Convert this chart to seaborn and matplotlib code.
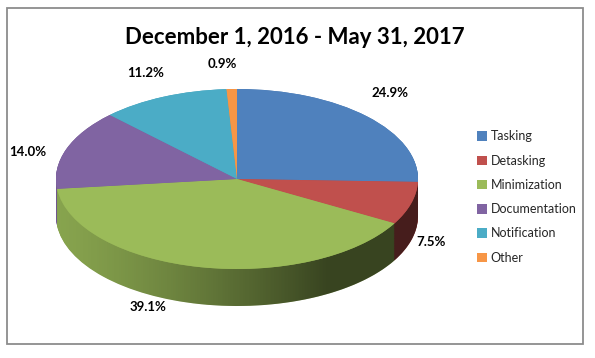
import numpy as np
import matplotlib.pyplot as plt
import seaborn as sns
from matplotlib.patches import Polygon, Rectangle
from matplotlib.colors import to_rgb

sns.set_theme(style="white")
plt.rcParams['font.family'] = ['Lato', 'DejaVu Sans']

# Datos del grafico
categorias = ["Tasking", "Detasking", "Minimization", "Documentation", "Notification", "Other"]
porcentajes = [24.9, 7.5, 39.1, 14.0, 11.2, 0.9]
etiquetas = ["24.9%", "7.5%", "39.1%", "14.0%", "11.2%", "0.9%"]
titulo = "December 1, 2016 - May 31, 2017"

colores = sns.color_palette(["#4F81BD", "#C0504D", "#9BBB59", "#8064A2", "#4BACC6", "#F79646"])

# Posicion de las etiquetas (pixeles de la figura)
pos_etiquetas = [(390, 93), (431, 242), (148, 307), (28, 152), (146, 73), (222, 64)]

W, H = 595, 358
fig = plt.figure(figsize=(W / 100, H / 100), dpi=100)
fig.patch.set_facecolor("white")

# Geometria del pastel en pixeles
cx, cy, rx, ry, prof = 237, 179, 181, 90, 37
ax_l, ax_r, ax_t, ax_b = 20, 455, 50, 345
ax = fig.add_axes([ax_l / W, 1 - ax_b / H, (ax_r - ax_l) / W, (ax_b - ax_t) / H])
depth = prof / ry

# Lateral (capas apiladas)
lado = [tuple(np.array(to_rgb(c)) * 0.93) for c in colores]
for k in np.linspace(depth, 0, 60):
    ax.pie(porcentajes, colors=lado, startangle=90, counterclock=False,
           center=(0, -k), radius=1, wedgeprops=dict(linewidth=0))

# Sombreado horizontal del lateral
u = np.linspace(0, 1, 400)
alpha = 0.06 + 0.55 * np.clip(u / 0.75, 0, 1) ** 1.3
grad = np.zeros((1, len(u), 4))
grad[..., 3] = alpha
t = np.linspace(np.pi, 2 * np.pi, 200)
banda = np.vstack([np.column_stack([np.cos(t), np.sin(t)]),
                   np.column_stack([np.cos(t[::-1]), np.sin(t[::-1]) - depth])])
img = ax.imshow(grad, extent=(-1, 1, -1 - depth, 0), aspect='auto', zorder=2)
clip = Polygon(banda, closed=True, transform=ax.transData, facecolor='none', edgecolor='none')
ax.add_patch(clip)
img.set_clip_path(clip)

# Superficie superior
cuñas, _ = ax.pie(porcentajes, colors=colores, startangle=90, counterclock=False,
                  center=(0, 0), radius=1, wedgeprops=dict(linewidth=0))
for w in cuñas:
    w.set_zorder(3)

ax.set_aspect('auto')
ax.set_xlim((ax_l - cx) / rx, (ax_r - cx) / rx)
ax.set_ylim((cy - ax_b) / ry, (cy - ax_t) / ry)
ax.axis('off')

# Etiquetas de porcentaje
for txt, (px, py) in zip(etiquetas, pos_etiquetas):
    fig.text(px / W, 1 - py / H, txt, ha='center', va='center',
             fontsize=9.5, fontweight='bold', color='black')

# Titulo
fig.text(295 / W, 1 - 37 / H, titulo, ha='center', va='center',
         fontsize=16, fontweight='bold', color='black')

# Leyenda
fig.legend(cuñas, categorias, loc='center left', bbox_to_anchor=(472 / W, 1 - 197 / H),
           frameon=False, fontsize=9, handlelength=0.8, handleheight=0.8,
           handletextpad=0.3, labelspacing=0.98, borderaxespad=0)

# Marco
fig.add_artist(Rectangle((7 / W, 1 - 344 / H), 576 / W, 336 / H, transform=fig.transFigure,
                         fill=False, edgecolor='#8c8c8c', linewidth=1.3))

fig.savefig("out.png", dpi=100, facecolor="white")
